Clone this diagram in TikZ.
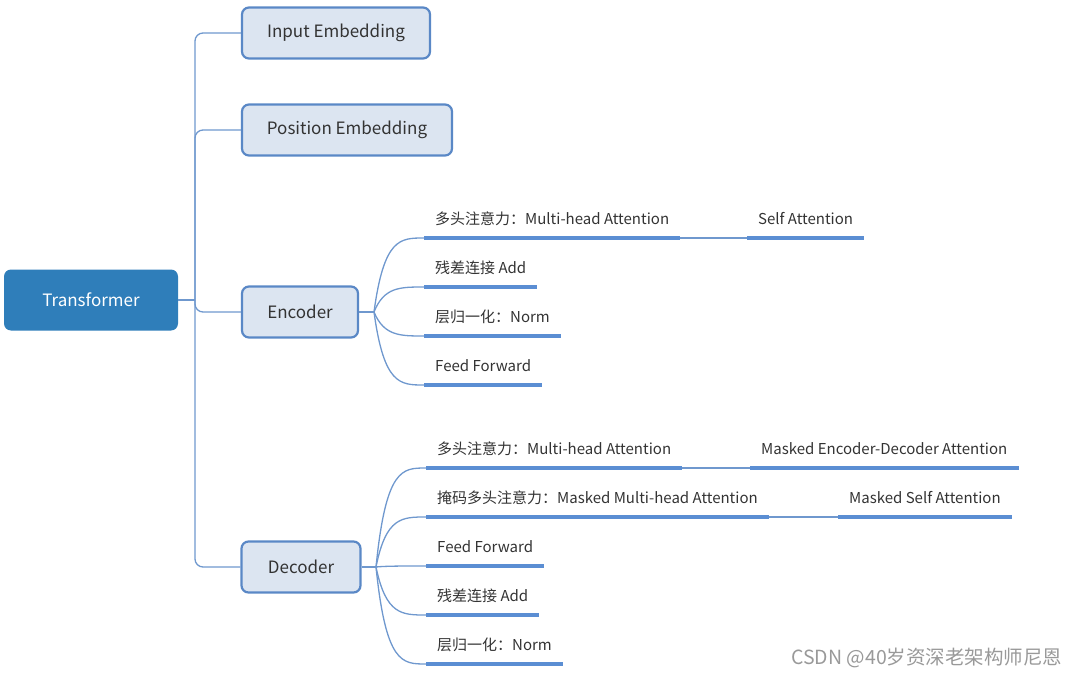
\documentclass[tikz,border=0pt]{standalone}
\usepackage{fontspec}
\setmainfont{Noto Sans CJK SC}
\usepackage{tikz}
\usetikzlibrary{calc}
\usepackage{xcolor}
\definecolor{rootblue}{HTML}{2F7EBA}
\definecolor{boxfill}{HTML}{DCE5F1}
\definecolor{boxline}{HTML}{5A88C6}
\definecolor{linkblue}{HTML}{6F98CE}
\definecolor{ulblue}{HTML}{5B8ED3}
\definecolor{inkgrey}{HTML}{333333}
\newcommand{\bigtext}{\fontsize{17}{20}\selectfont}
\newcommand{\leaftext}{\fontsize{15}{18}\selectfont}

\begin{document}
\begin{tikzpicture}[x=1pt,y=-1pt]
    \tikzset{topic/.style={draw=boxline,fill=boxfill,line width=2.2pt,rounded corners=7pt,minimum height=51pt,text=inkgrey,font=\bigtext}}
    \tikzset{root/.style={fill=rootblue,rounded corners=7pt,minimum width=174pt,minimum height=61pt,text=white,font=\bigtext}}
    \tikzset{leaf/.style={anchor=south west,inner xsep=11pt,inner ysep=0pt,text depth=13pt,text=inkgrey,font=\leaftext}}
    \tikzset{link/.style={draw=linkblue,line width=1.3pt}}
    \tikzset{uline/.style={draw=ulblue,line width=4pt}}
    \useasboundingbox (0,0) rectangle (1080,677);
    % main topics
    \node[root] (tf) at (91,300) {Transformer};
    \node[topic,minimum width=188pt] (inp) at (336,33) {Input Embedding};
    \node[topic,minimum width=210pt] (pos) at (347,130) {Position Embedding};
    \node[topic,minimum width=116pt] (enc) at (300,312) {Encoder};
    \node[topic,minimum width=119pt] (dec) at (301,567) {Decoder};
    \coordinate (hub) at (195,300);
    \draw[link] (tf.east) -- (hub);
    \foreach \t in {inp,pos,enc,dec}
      \draw[link,rounded corners=8pt] (hub) |- (\t.west);
    % encoder
    \coordinate (efork) at (374,312);
    \draw[link] (enc.east) -- (efork);
    \node[leaf] (e1) at (424,238) {多头注意力：Multi-head Attention};
    \node[leaf] (e1s) at (747,238) {Self Attention};
    \node[leaf] (e2) at (424,287) {残差连接 Add};
    \node[leaf] (e3) at (424,336) {层归一化：Norm};
    \node[leaf] (e4) at (424,385) {Feed Forward};
    \foreach \lf in {e1,e2,e3,e4}
      \draw[link] (efork) let \p1=(efork), \p2=(\lf.south west) in
        .. controls (\x1+10pt,\y2) and (\x1+26pt,\y2) .. (\p2);
    \draw[link] (e1.south east) -- (e1s.south west);
    % decoder
    \coordinate (dfork) at (376,567);
    \draw[link] (dec.east) -- (dfork);
    \node[leaf] (d1) at (426,468) {多头注意力：Multi-head Attention};
    \node[leaf] (d1s) at (750,468) {Masked Encoder-Decoder Attention};
    \node[leaf] (d2) at (426,517) {掩码多头注意力：Masked Multi-head Attention};
    \node[leaf] (d2s) at (838,517) {Masked Self Attention};
    \node[leaf] (d3) at (426,566) {Feed Forward};
    \node[leaf] (d4) at (426,615) {残差连接 Add};
    \node[leaf] (d5) at (426,664) {层归一化：Norm};
    \foreach \lf in {d1,d2,d3,d4,d5}
      \draw[link] (dfork) let \p1=(dfork), \p2=(\lf.south west) in
        .. controls (\x1+10pt,\y2) and (\x1+26pt,\y2) .. (\p2);
    \draw[link] (d1.south east) -- (d1s.south west);
    \draw[link] (d2.south east) -- (d2s.south west);
    % underlines
    \foreach \lf in {e1,e1s,e2,e3,e4,d1,d1s,d2,d2s,d3,d4,d5}
      \draw[uline] (\lf.south west) -- (\lf.south east);
    \node[anchor=east,text=black!40,font=\fontsize{19.5}{22}\selectfont] (mark) at (1066,658) {CSDN @40岁资深老架构师尼恩};
\end{tikzpicture}
\end{document}
